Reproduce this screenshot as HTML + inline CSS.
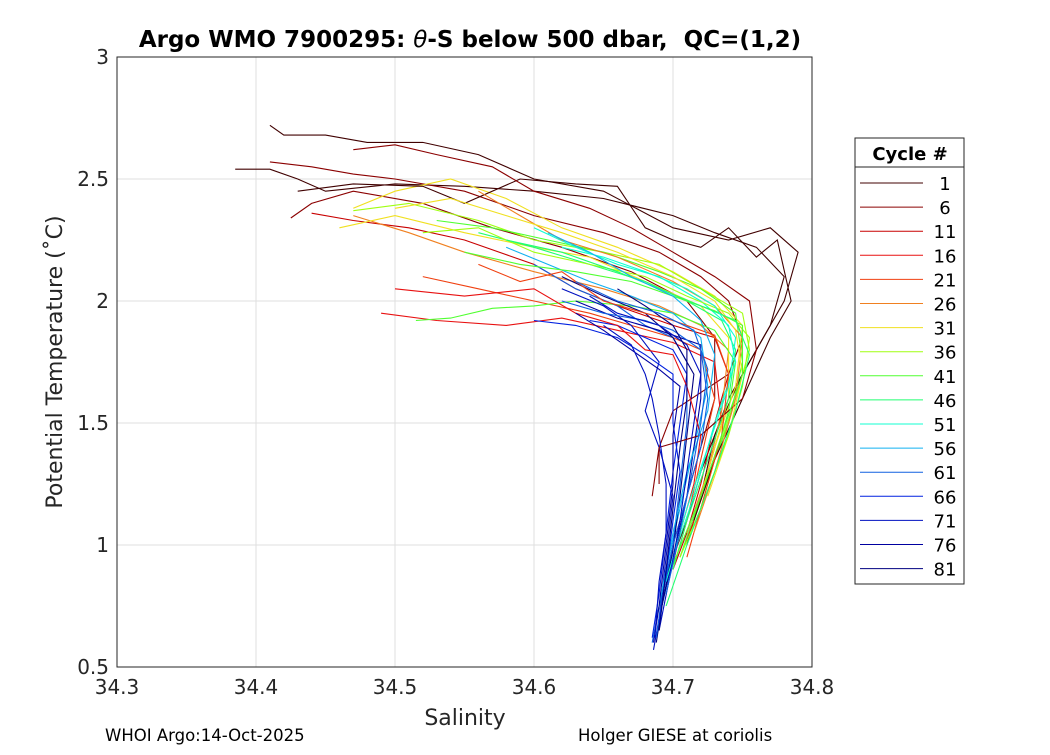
<!DOCTYPE html>
<html><head><meta charset="utf-8"><style>
body{margin:0;background:#fff;}
svg text{font-family:"DejaVu Sans","Liberation Sans",sans-serif;}
</style></head><body>
<svg id="chart" width="1050" height="750" xmlns="http://www.w3.org/2000/svg">
<rect x="0" y="0" width="1050" height="750" fill="#fff"/>
<rect x="117" y="57" width="695" height="610" fill="#fff" stroke="none"/>
<g id="grid"></g>
<g id="lines"></g>
<rect x="117" y="57" width="695" height="610" fill="none" stroke="#262626" stroke-width="1"/>
<g id="ticks"></g>
<text x="470" y="47" text-anchor="middle" font-size="23" font-weight="bold" fill="#000">Argo WMO 7900295: <tspan font-style="italic" font-weight="normal">θ</tspan>-S below 500 dbar,&#160; QC=(1,2)</text>
<text x="465" y="725" text-anchor="middle" font-size="22" fill="#262626">Salinity</text>
<text transform="translate(62,362) rotate(-90)" text-anchor="middle" font-size="22" fill="#262626">Potential Temperature (˚C)</text>
<text x="105" y="741" font-size="16.5" fill="#000">WHOI Argo:14-Oct-2025</text>
<text x="578" y="741" font-size="16.5" fill="#000">Holger GIESE at coriolis</text>
<g id="legend">
<rect x="855" y="138" width="109" height="446" fill="#fff" stroke="#262626" stroke-width="1"/>
<line x1="855" y1="167" x2="964" y2="167" stroke="#262626"/>
<text x="910" y="160" text-anchor="middle" font-size="18" font-weight="bold" fill="#000">Cycle #</text>
</g>
</svg>
<script>
const xTicks=[34.3,34.4,34.5,34.6,34.7,34.8];
const xTickLabels=["34.3","34.4","34.5","34.6","34.7","34.8"];
const yTicks=[0.5,1,1.5,2,2.5,3];
const yTickLabels=["0.5","1","1.5","2","2.5","3"];
const legendCycles=["1","6","11","16","21","26","31","36","41","46","51","56","61","66","71","76","81"];
const legendColors=["#400000","#8b0000","#c80000","#e81010","#f04010","#f08020","#f0e020","#a0ff10","#50ff30","#20ff70","#10ffd0","#10b0f0","#1060e0","#0020e0","#0010c0","#0000a0","#000080"];
const profileColors=["#400000","#400000","#8b0000","#8b0000","#c80000","#e81010","#f04010","#f08020","#f0e020","#f0e020","#a0ff10","#50ff30","#50ff30","#20ff70","#10ffd0","#10b0f0","#1060e0","#0020e0","#0010c0","#0000a0","#000080",
"#400000","#8b0000","#e81010","#f04010","#f08020","#f0e020","#a0ff10","#50ff30","#20ff70","#10ffd0","#10b0f0","#1060e0","#0020e0","#0010c0","#0000a0","#000080","#0010c0","#1060e0"];
const p1=[[34.41,2.72],[34.42,2.68],[34.45,2.68],[34.48,2.65],[34.52,2.65],[34.56,2.6],[34.6,2.5],[34.65,2.45],[34.7,2.3],[34.74,2.25],[34.77,2.3],[34.79,2.2],[34.78,2.0],[34.76,1.8],[34.74,1.6],[34.72,1.3],[34.71,1.1],[34.7,0.95]];
const p2=[[34.385,2.54],[34.41,2.54],[34.43,2.5],[34.45,2.45],[34.5,2.48],[34.55,2.47],[34.6,2.45],[34.65,2.42],[34.7,2.35],[34.73,2.28],[34.76,2.22],[34.78,2.1],[34.77,1.9],[34.75,1.7],[34.73,1.45],[34.72,1.2],[34.71,1.0]];
const p3=[[34.41,2.57],[34.44,2.55],[34.47,2.52],[34.5,2.5],[34.55,2.45],[34.6,2.35],[34.65,2.28],[34.69,2.2],[34.72,2.1],[34.74,2.0],[34.75,1.85],[34.74,1.7],[34.7,1.55],[34.69,1.4],[34.685,1.2]];
const p4=[[34.425,2.34],[34.44,2.4],[34.47,2.45],[34.52,2.4],[34.57,2.3],[34.62,2.22],[34.67,2.12],[34.71,2.0],[34.73,1.85],[34.73,1.6],[34.72,1.4],[34.71,1.2],[34.7,1.0],[34.695,0.85]];
const p5=[[34.44,2.36],[34.47,2.33],[34.51,2.3],[34.55,2.25],[34.6,2.15],[34.63,2.05],[34.66,1.98],[34.7,1.9],[34.73,1.85],[34.74,1.7],[34.73,1.5],[34.72,1.25],[34.71,1.05],[34.7,0.9]];
const p6=[[34.49,1.95],[34.53,1.92],[34.58,1.9],[34.62,1.93],[34.66,1.88],[34.7,1.83],[34.73,1.75],[34.735,1.5],[34.725,1.3],[34.715,1.1],[34.705,0.95]];
const p7=[[34.52,2.1],[34.56,2.05],[34.6,2.0],[34.64,1.95],[34.67,1.9],[34.7,1.85],[34.72,1.8],[34.73,1.6],[34.72,1.35],[34.71,1.1],[34.7,0.9]];
const p8=[[34.47,2.35],[34.51,2.28],[34.55,2.2],[34.6,2.12],[34.65,2.05],[34.69,1.98],[34.72,1.9],[34.74,1.8],[34.735,1.55],[34.725,1.3],[34.71,1.05]];
const p9=[[34.47,2.38],[34.5,2.45],[34.54,2.5],[34.58,2.42],[34.62,2.3],[34.66,2.22],[34.7,2.12],[34.73,2.02],[34.75,1.9],[34.745,1.65],[34.73,1.4],[34.72,1.2]];
const p10=[[34.46,2.3],[34.5,2.35],[34.55,2.28],[34.6,2.22],[34.64,2.18],[34.68,2.08],[34.72,1.98],[34.74,1.85],[34.74,1.6],[34.73,1.4]];
const p11=[[34.47,2.37],[34.51,2.4],[34.56,2.33],[34.6,2.25],[34.65,2.2],[34.69,2.15],[34.72,2.05],[34.75,1.95],[34.755,1.8],[34.745,1.6],[34.73,1.35],[34.72,1.15]];
const p12=[[34.515,1.92],[34.54,1.93],[34.57,1.97],[34.6,1.98],[34.63,2.0],[34.67,1.98],[34.7,1.95],[34.73,1.88],[34.745,1.75],[34.74,1.55],[34.73,1.35],[34.715,1.1]];
const p13=[[34.53,2.33],[34.57,2.3],[34.61,2.25],[34.65,2.2],[34.69,2.12],[34.72,2.05],[34.745,1.95],[34.75,1.75],[34.74,1.5],[34.72,1.2],[34.705,0.95]];
const p14=[[34.56,2.28],[34.6,2.22],[34.64,2.15],[34.68,2.08],[34.71,2.0],[34.735,1.92],[34.745,1.8],[34.74,1.6],[34.725,1.35],[34.71,1.1],[34.7,0.9]];
const p15=[[34.6,2.3],[34.63,2.22],[34.66,2.15],[34.69,2.1],[34.72,2.0],[34.74,1.9],[34.745,1.75],[34.73,1.5],[34.715,1.2],[34.7,0.95],[34.69,0.7]];
const p16=[[34.58,2.22],[34.61,2.15],[34.64,2.08],[34.67,2.02],[34.7,1.95],[34.72,1.85],[34.725,1.65],[34.715,1.4],[34.705,1.15],[34.695,0.9],[34.69,0.65]];
const p17=[[34.6,2.15],[34.63,2.05],[34.66,1.98],[34.68,1.9],[34.7,1.85],[34.71,1.75],[34.71,1.5],[34.705,1.25],[34.7,1.0],[34.69,0.75],[34.685,0.6]];
const p18=[[34.64,1.92],[34.66,1.9],[34.68,1.85],[34.7,1.8],[34.71,1.7],[34.705,1.5],[34.7,1.3],[34.695,1.05],[34.69,0.8],[34.685,0.62]];
const p19=[[34.62,2.05],[34.65,1.98],[34.67,1.9],[34.69,1.75],[34.68,1.55],[34.69,1.4],[34.7,1.2],[34.695,0.95],[34.69,0.7],[34.686,0.57]];
const p20=[[34.63,2.0],[34.66,1.93],[34.69,1.88],[34.72,1.82],[34.72,1.6],[34.715,1.4],[34.71,1.2],[34.7,0.95],[34.69,0.7]];
const p21=[[34.62,2.1],[34.65,2.02],[34.68,1.95],[34.7,1.85],[34.715,1.7],[34.71,1.45],[34.705,1.2],[34.7,0.98],[34.692,0.75],[34.688,0.6]];
const q1=[[34.43,2.45],[34.47,2.48],[34.52,2.47],[34.55,2.4],[34.59,2.5],[34.63,2.48],[34.66,2.47],[34.68,2.3],[34.7,2.25],[34.72,2.22],[34.74,2.3],[34.76,2.18],[34.775,2.25],[34.785,2.0],[34.77,1.85],[34.75,1.6],[34.73,1.35],[34.715,1.1]];
const q2=[[34.47,2.62],[34.5,2.64],[34.53,2.6],[34.57,2.55],[34.6,2.45],[34.64,2.38],[34.67,2.3],[34.7,2.2],[34.73,2.1],[34.755,2.0],[34.76,1.8],[34.75,1.6],[34.72,1.45],[34.69,1.4],[34.69,1.25]];
const q3=[[34.5,2.05],[34.55,2.02],[34.6,2.05],[34.63,1.95],[34.66,1.9],[34.68,1.8],[34.7,1.78],[34.71,1.65],[34.72,1.45],[34.715,1.25],[34.705,1.05],[34.7,0.92]];
const q4=[[34.56,2.15],[34.59,2.08],[34.62,2.12],[34.65,2.0],[34.68,1.95],[34.7,1.92],[34.73,1.86],[34.74,1.7],[34.735,1.45],[34.72,1.15],[34.71,0.95]];
const q5=[[34.56,2.45],[34.59,2.35],[34.62,2.25],[34.66,2.18],[34.7,2.08],[34.73,1.98],[34.75,1.85],[34.745,1.6],[34.73,1.3],[34.715,1.05]];
const q6=[[34.5,2.38],[34.54,2.42],[34.58,2.35],[34.62,2.28],[34.66,2.2],[34.7,2.1],[34.73,2.0],[34.745,1.88],[34.75,1.7],[34.74,1.45],[34.725,1.2]];
const q7=[[34.52,2.28],[34.56,2.3],[34.6,2.2],[34.64,2.15],[34.68,2.1],[34.71,2.02],[34.74,1.95],[34.755,1.85],[34.75,1.65],[34.74,1.45],[34.72,1.15],[34.705,0.95]];
const q8=[[34.55,2.2],[34.59,2.15],[34.63,2.12],[34.67,2.08],[34.7,2.02],[34.73,1.96],[34.75,1.9],[34.75,1.7],[34.735,1.45],[34.72,1.2],[34.7,0.92]];
const q9=[[34.58,2.25],[34.62,2.2],[34.66,2.12],[34.69,2.05],[34.72,1.98],[34.745,1.92],[34.755,1.78],[34.745,1.55],[34.73,1.3],[34.71,1.0],[34.695,0.75]];
const q10=[[34.62,2.22],[34.65,2.18],[34.68,2.12],[34.71,2.05],[34.73,1.98],[34.745,1.85],[34.74,1.65],[34.725,1.4],[34.71,1.15],[34.695,0.85]];
const q11=[[34.61,2.28],[34.64,2.2],[34.67,2.1],[34.7,2.02],[34.72,1.92],[34.73,1.78],[34.725,1.55],[34.71,1.3],[34.7,1.05],[34.69,0.75],[34.688,0.68]];
const q12=[[34.62,2.0],[34.65,1.95],[34.68,1.92],[34.7,1.88],[34.72,1.8],[34.725,1.6],[34.72,1.4],[34.71,1.2],[34.7,1.0],[34.692,0.78],[34.688,0.62]];
const q13=[[34.6,1.92],[34.63,1.9],[34.66,1.85],[34.68,1.78],[34.7,1.7],[34.7,1.5],[34.705,1.3],[34.7,1.1],[34.695,0.88],[34.69,0.68]];
const q14=[[34.64,2.02],[34.66,1.95],[34.69,1.9],[34.71,1.82],[34.72,1.7],[34.715,1.5],[34.71,1.3],[34.705,1.1],[34.698,0.88],[34.69,0.65]];
const q15=[[34.63,1.95],[34.65,1.88],[34.67,1.8],[34.69,1.72],[34.705,1.65],[34.7,1.45],[34.7,1.25],[34.695,1.0],[34.69,0.75],[34.686,0.6]];
const q16=[[34.66,2.05],[34.68,1.98],[34.7,1.9],[34.71,1.8],[34.71,1.6],[34.705,1.4],[34.7,1.15],[34.695,0.9],[34.69,0.65]];
const q17=[[34.65,1.9],[34.67,1.82],[34.68,1.7],[34.685,1.6],[34.69,1.45],[34.695,1.25],[34.695,1.05],[34.69,0.85],[34.687,0.62]];
const q18=[[34.63,2.08],[34.66,2.0],[34.69,1.95],[34.715,1.88],[34.725,1.72],[34.72,1.5],[34.712,1.25],[34.703,1.0],[34.695,0.8]];
const profiles=[p1,p2,p3,p4,p5,p6,p7,p8,p9,p10,p11,p12,p13,p14,p15,p16,p17,p18,p19,p20,p21,q1,q2,q3,q4,q5,q6,q7,q8,q9,q10,q11,q12,q13,q14,q15,q16,q17,q18];

const X0=117,X1=812,Y0=667,Y1=57;
function xs(v){return X0+(v-34.3)/(34.8-34.3)*(X1-X0);}
function ys(v){return Y0-(v-0.5)/(3-0.5)*(Y0-Y1);}
const NS="http://www.w3.org/2000/svg";
function mk(t,a){const e=document.createElementNS(NS,t);for(const k in a)e.setAttribute(k,a[k]);return e;}
const grid=document.getElementById('grid'),ticks=document.getElementById('ticks'),lines=document.getElementById('lines');
xTicks.forEach((v,i)=>{
  const g=mk('line',{x1:xs(v),x2:xs(v),y1:Y1,y2:Y0,stroke:'#dfdfdf','stroke-width':1});
  
  
  grid.appendChild(g);
  const t=mk('text',{x:xs(v),y:Y0+27,'text-anchor':'middle','font-size':20,fill:'#262626'});
  t.textContent=xTickLabels[i];
  
  
  ticks.appendChild(t);
});
yTicks.forEach((v,i)=>{
  const g=mk('line',{x1:X0,x2:X1,y1:ys(v),y2:ys(v),stroke:'#dfdfdf','stroke-width':1});
  
  
  grid.appendChild(g);
  const t=mk('text',{x:X0-8,y:ys(v)+7,'text-anchor':'end','font-size':20,fill:'#262626'});
  t.textContent=yTickLabels[i];
  
  
  ticks.appendChild(t);
});
profiles.forEach((p,i)=>{
  const pts=p.map(d=>xs(d[0]).toFixed(1)+','+ys(d[1]).toFixed(1)).join(' ');
  const pl=mk('polyline',{points:pts,fill:'none',stroke:profileColors[i],'stroke-width':1.1});
  
  
  lines.appendChild(pl);
});
const leg=document.getElementById('legend');
legendCycles.forEach((c,i)=>{
  const y=183+i*24.1;
  const l=mk('line',{x1:860,x2:923,y1:y,y2:y,stroke:legendColors[i],'stroke-width':1});
  
  
  leg.appendChild(l);
  const t=mk('text',{x:945,y:y+7,'text-anchor':'middle','font-size':18,fill:'#000'});
  t.textContent=c;
  
  
  leg.appendChild(t);
});
</script>
</body></html>
